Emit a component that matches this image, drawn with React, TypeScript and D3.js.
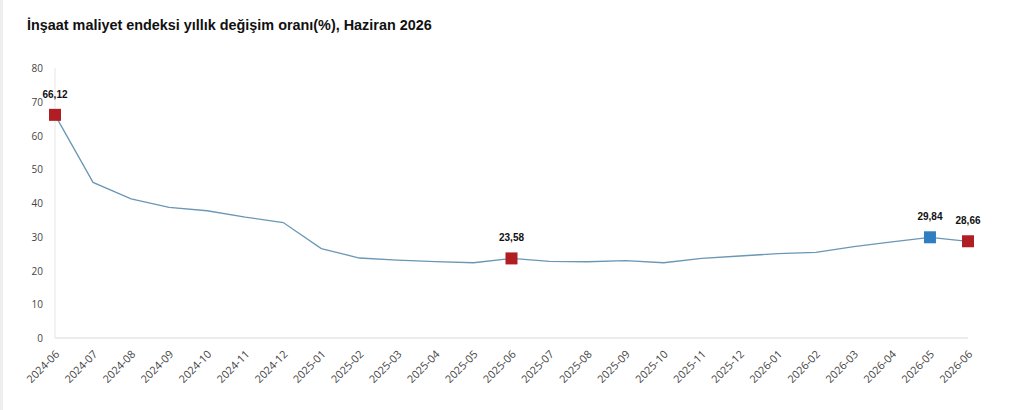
import { useEffect, useRef } from 'react';
import * as d3 from 'd3';

const months = [
  '2024-06', '2024-07', '2024-08', '2024-09', '2024-10', '2024-11', '2024-12',
  '2025-01', '2025-02', '2025-03', '2025-04', '2025-05', '2025-06', '2025-07',
  '2025-08', '2025-09', '2025-10', '2025-11', '2025-12', '2026-01', '2026-02',
  '2026-03', '2026-04', '2026-05', '2026-06',
];

const values = [
  66.12, 46.1, 41.2, 38.7, 37.7, 35.8, 34.2,
  26.5, 23.7, 23.1, 22.6, 22.3, 23.58, 22.7,
  22.6, 22.9, 22.3, 23.6, 24.3, 25.0, 25.4,
  27.1, 28.5, 29.84, 28.66,
];

// highlighted points: month -> marker colour
const highlights = [
  { month: '2024-06', color: '#b01e23' },
  { month: '2025-06', color: '#b01e23' },
  { month: '2026-05', color: '#2f7ec1' },
  { month: '2026-06', color: '#b01e23' },
];

const yTicks = [0, 10, 20, 30, 40, 50, 60, 70, 80];

const title = 'İnşaat maliyet endeksi yıllık değişim oranı(%), Haziran 2026';

export default function App() {
  const svgRef = useRef<SVGSVGElement>(null);

  useEffect(() => {
    if (!svgRef.current) return;
    const width = 1012;
    const height = 410;
    const svg = d3.select(svgRef.current).attr('viewBox', `0 0 ${width} ${height}`);
    svg.selectAll('*').remove();

    svg.append('rect').attr('width', width).attr('height', height).attr('fill', '#fff');
    svg.append('rect').attr('x', 0).attr('y', 0).attr('width', 3).attr('height', height).attr('fill', '#eeeeee');

    svg.append('text')
      .attr('x', 27)
      .attr('y', 30)
      .text(title)
      .style('font-family', '"Liberation Sans", Arial, sans-serif')
      .style('font-weight', 'bold')
      .style('font-size', '14.4px')
      .style('fill', '#111');

    const x = d3.scalePoint<string>().domain(months).range([55, 968]);
    const y = d3.scaleLinear().domain([0, 80]).range([338, 68]);

    // axes lines
    svg.append('line')
      .attr('x1', 55).attr('x2', 55).attr('y1', y(80)).attr('y2', y(0))
      .attr('stroke', '#e6e6e6');
    svg.append('line')
      .attr('x1', 55).attr('x2', 968).attr('y1', y(0)).attr('y2', y(0))
      .attr('stroke', '#e6e6e6').attr('stroke-width', 1.5);

    svg.append('g')
      .selectAll('text')
      .data(yTicks)
      .enter()
      .append('text')
      .attr('x', 43)
      .attr('y', d => y(d) + 4)
      .attr('text-anchor', 'end')
      .text(d => d)
      .style('font-family', '"Open Sans", sans-serif')
      .style('font-size', '10px')
      .style('fill', '#444');

    svg.append('g')
      .selectAll('text')
      .data(months)
      .enter()
      .append('text')
      .attr('transform', d => `translate(${(x(d) as number) + 5},${355}) rotate(-45)`)
      .attr('text-anchor', 'end')
      .text(d => d)
      .style('font-family', '"Open Sans", sans-serif')
      .style('font-size', '10.8px')
      .style('fill', '#444');

    const line = d3.line<number>()
      .x((_, i) => x(months[i]) as number)
      .y(d => y(d));

    svg.append('path')
      .datum(values)
      .attr('d', line)
      .attr('fill', 'none')
      .attr('stroke', '#6a97b5')
      .attr('stroke-width', 1.3);

    const pts = highlights.map(h => ({ ...h, value: values[months.indexOf(h.month)] }));

    svg.append('g')
      .selectAll('rect')
      .data(pts)
      .enter()
      .append('rect')
      .attr('x', d => (x(d.month) as number) - 6)
      .attr('y', d => y(d.value) - 6)
      .attr('width', 12)
      .attr('height', 12)
      .attr('fill', d => d.color);

    svg.append('g')
      .selectAll('text')
      .data(pts)
      .enter()
      .append('text')
      .attr('x', d => x(d.month) as number)
      .attr('y', d => y(d.value) - 17)
      .attr('text-anchor', 'middle')
      .text(d => d.value.toFixed(2).replace('.', ','))
      .style('font-family', '"Liberation Sans", Arial, sans-serif')
      .style('font-weight', 'bold')
      .style('font-size', '10px')
      .style('fill', '#111');
  }, []);

  return (
    <div style={{ position: 'fixed', left: 0, top: 0, width: 1012, height: 410 }}>
      <svg ref={svgRef} width={1012} height={410} style={{ display: 'block' }} />
    </div>
  );
}
